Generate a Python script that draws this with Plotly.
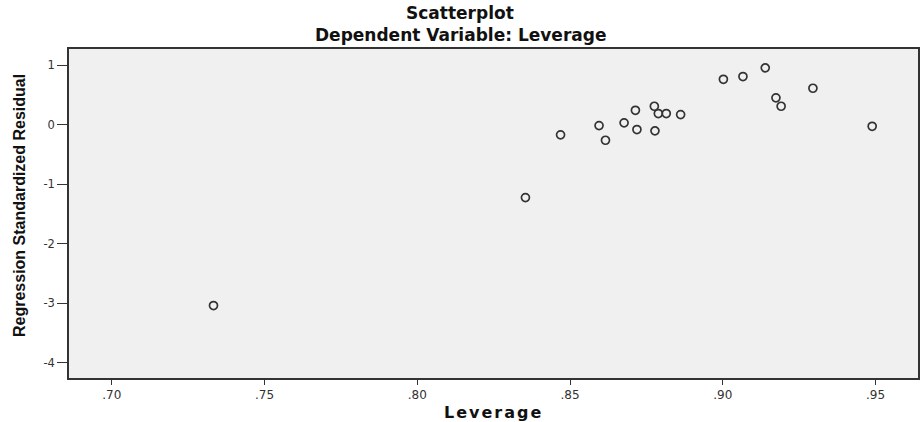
import plotly.graph_objects as go

leverage = [0.8354, 0.8469, 0.8595, 0.8616, 0.8677, 0.8714, 0.8719, 0.8776, 0.8789, 0.8815,
            0.8778, 0.8862, 0.9002, 0.9066, 0.9139, 0.9174, 0.9191, 0.9295, 0.9489, 0.7333]
residual = [-1.227, -0.173, -0.017, -0.264, 0.029, 0.240, -0.084, 0.308, 0.185, 0.185,
            -0.106, 0.168, 0.761, 0.807, 0.953, 0.449, 0.308, 0.610, -0.029, -3.042]

x_ticks = [0.70, 0.75, 0.80, 0.85, 0.90, 0.95]
x_ticklabels = [".70", ".75", ".80", ".85", ".90", ".95"]
y_ticks = [1, 0, -1, -2, -3, -4]

W, H = 920, 422
L, R, T, B = 69, 2, 49, 44
fig_center_paper = (W / 2 - L) / (W - L - R)
WIDE = "DejaVu Sans, Verdana, sans-serif"

fig = go.Figure()
fig.add_trace(go.Scatter(
    x=leverage, y=residual, mode="markers",
    marker=dict(symbol="circle-open", size=8, color="#333333", line=dict(width=1.7, color="#333333")),
    hoverinfo="x+y", showlegend=False,
))

fig.update_layout(
    width=W, height=H,
    margin=dict(l=L, r=R, t=T, b=B, autoexpand=False),
    paper_bgcolor="white",
    plot_bgcolor="#F0F0F0",
    font=dict(family="Arial, Liberation Sans, sans-serif", color="#222222", size=11),
    annotations=[
        dict(text="<b>Scatterplot</b>", xref="paper", yref="paper", x=fig_center_paper, y=1, yshift=36.5,
             showarrow=False, font=dict(size=17, color="#111111", family=WIDE),
             xanchor="center", yanchor="middle"),
        dict(text="<b>Dependent Variable: Leverage</b>", xref="paper", yref="paper", x=fig_center_paper, y=1,
             yshift=14, showarrow=False, font=dict(size=17, color="#111111", family=WIDE),
             xanchor="center", yanchor="middle"),
        dict(text="<b><span style='letter-spacing:2px'>Leverage</span></b>", xref="paper", yref="paper",
             x=0.5, y=0, yshift=-34, showarrow=False, font=dict(size=16, color="#111111", family=WIDE),
             xanchor="center", yanchor="middle"),
        dict(text="<b>Regression Standardized Residual</b>", xref="paper", yref="paper", x=0, xshift=-50,
             y=1 - (206 - T) / (H - T - B), textangle=-90, showarrow=False,
             font=dict(size=16, color="#111111", family="Liberation Sans Narrow, Arial Narrow, Liberation Sans, sans-serif"),
             xanchor="center", yanchor="middle"),
    ],
)

fig.update_xaxes(
    range=[0.686, 0.9639],
    tickvals=x_ticks, ticktext=x_ticklabels,
    ticks="outside", ticklen=5, tickwidth=1.2, tickcolor="#333333",
    showgrid=False, zeroline=False, automargin=False,
    showline=True, linecolor="#333333", linewidth=1.5, mirror=True,
    tickfont=dict(size=12, color="#333333", family=WIDE),
)
fig.update_yaxes(
    range=[-4.26, 1.27],
    tickvals=y_ticks, ticktext=[str(v) for v in y_ticks],
    ticks="outside", ticklen=10, tickwidth=1.2, tickcolor="#333333",
    showgrid=False, zeroline=False, automargin=False,
    showline=True, linecolor="#333333", linewidth=1.5, mirror=True,
    tickfont=dict(size=11.5, color="#333333", family=WIDE),
)

fig.write_html("out.html", config={"displayModeBar": False},
               post_script="document.body.style.margin='0';document.body.style.padding='0';")
